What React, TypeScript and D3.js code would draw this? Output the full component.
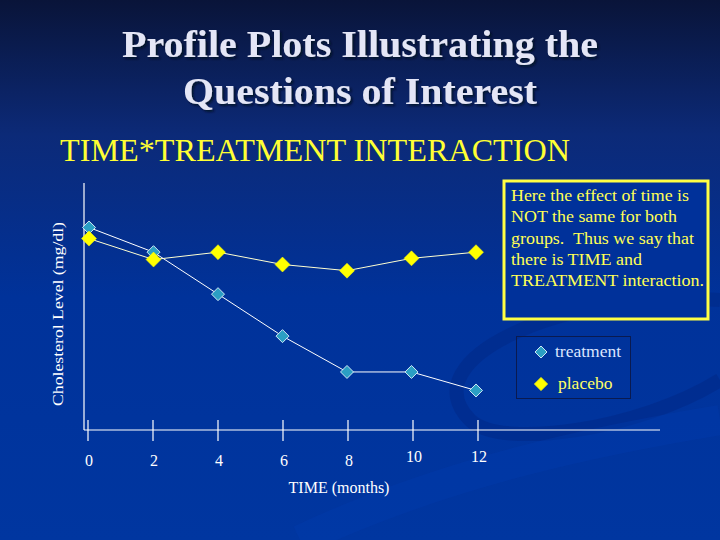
import { useEffect, useRef } from "react";
import * as d3 from "d3";

const months = [0, 2, 4, 6, 8, 10, 12];
const tickLabels = ["0", "2", "4", "6", "8", "10", "12"];
const treatment = [82, 72, 55, 38, 23.5, 23.5, 16];
const placebo = [77.5, 69, 72, 67, 64.5, 69.5, 72];
const noteLines = [
  "Here the effect of time is",
  "NOT the same for both",
  "groups.  Thus we say that",
  "there is TIME and",
  "TREATMENT interaction.",
];
const legendItems = [
  { name: "treatment", fill: "#2b9fc4", stroke: "#cfe8f4", text: "#dbe6ff" },
  { name: "placebo", fill: "#ffff00", stroke: "#ffff00", text: "#ffff66" },
];

const W = 720;
const H = 540;
const SERIF = "'Liberation Serif', 'DejaVu Serif', serif";

export default function App() {
  const svgRef = useRef<SVGSVGElement>(null);

  useEffect(() => {
    if (!svgRef.current) return;
    const root = d3.select(svgRef.current);
    root.selectAll("*").remove();

    // background
    const defs = root.append("defs");
    const grad = defs.append("linearGradient")
      .attr("id", "bg").attr("x1", 0).attr("y1", 0).attr("x2", 0).attr("y2", 1);
    grad.append("stop").attr("offset", "0%").attr("stop-color", "#091439");
    grad.append("stop").attr("offset", "25%").attr("stop-color", "#0c2a78");
    grad.append("stop").attr("offset", "55%").attr("stop-color", "#00329a");
    grad.append("stop").attr("offset", "100%").attr("stop-color", "#0036a0");
    const shadow = defs.append("filter").attr("id", "sh");
    shadow.append("feDropShadow").attr("dx", 2).attr("dy", 2).attr("stdDeviation", 1)
      .attr("flood-color", "#000820").attr("flood-opacity", 0.8);

    root.append("rect").attr("width", W).attr("height", H).attr("fill", "url(#bg)");

    // faint swoosh
    root.append("path")
      .attr("d", "M 720 300 C 560 290, 410 360, 470 420 C 500 450, 640 430, 720 380")
      .attr("fill", "none").attr("stroke", "#002a88").attr("stroke-width", 14).attr("opacity", 0.6);
    root.append("path")
      .attr("d", "M 300 540 C 450 470, 600 440, 720 420")
      .attr("fill", "none").attr("stroke", "#003cb0").attr("stroke-width", 30).attr("opacity", 0.35);

    // titles
    const title = root.append("g").attr("filter", "url(#sh)")
      .attr("font-family", SERIF).attr("font-weight", "bold").attr("font-size", 38)
      .attr("fill", "#e4e6f6").attr("text-anchor", "middle");
    title.append("text").attr("x", 360).attr("y", 57)
      .attr("textLength", 476).attr("lengthAdjust", "spacingAndGlyphs")
      .text("Profile Plots Illustrating the");
    title.append("text").attr("x", 360).attr("y", 104)
      .attr("textLength", 354).attr("lengthAdjust", "spacingAndGlyphs")
      .text("Questions of Interest");

    root.append("text").attr("x", 60).attr("y", 161)
      .attr("font-family", SERIF).attr("font-size", 32).attr("fill", "#ffff33")
      .attr("textLength", 510).attr("lengthAdjust", "spacingAndGlyphs")
      .text("TIME*TREATMENT INTERACTION");

    // scales
    const x = d3.scaleLinear().domain([0, 12]).range([89, 476]);
    const y = d3.scaleLinear().domain([0, 100]).range([430, 183]);

    // axes
    root.append("line").attr("x1", 84).attr("x2", 84).attr("y1", y(100)).attr("y2", 430)
      .attr("stroke", "#ffffff").attr("stroke-width", 1.2);
    root.append("line").attr("x1", 84).attr("x2", 660).attr("y1", 430).attr("y2", 430)
      .attr("stroke", "#ffffff").attr("stroke-width", 1.2);

    const tickX = d3.scaleLinear().domain([0, 12]).range([88, 478]);
    const ticks = root.append("g");
    months.forEach((m, i) => {
      ticks.append("line").attr("x1", tickX(m)).attr("x2", tickX(m))
        .attr("y1", 420).attr("y2", 441).attr("stroke", "#ffffff").attr("stroke-width", 1.2);
      ticks.append("text").attr("x", tickX(m) + 1).attr("y", i >= 5 ? 462 : 466)
        .attr("text-anchor", "middle").attr("font-family", SERIF).attr("font-size", 16)
        .attr("fill", "#ffffff").text(tickLabels[i]);
    });

    root.append("text").attr("x", 339).attr("y", 493).attr("text-anchor", "middle")
      .attr("font-family", SERIF).attr("font-size", 16).attr("fill", "#ffffff")
      .text("TIME (months)");

    root.append("text").attr("transform", "translate(63,314) rotate(-90)")
      .attr("text-anchor", "middle").attr("font-family", SERIF).attr("font-size", 15.5)
      .attr("fill", "#ffffff").attr("textLength", 184).attr("lengthAdjust", "spacingAndGlyphs")
      .text("Cholesterol Level (mg/dl)");

    // lines
    const line = d3.line<number>().x((_, i) => x(months[i])).y((d) => y(d));
    root.append("path").attr("d", line(treatment)).attr("fill", "none")
      .attr("stroke", "#ffffff").attr("stroke-width", 1);
    root.append("path").attr("d", line(placebo)).attr("fill", "none")
      .attr("stroke", "#ffffd0").attr("stroke-width", 1);

    const diamond = (s: number) => `M 0 ${-s} L ${s} 0 L 0 ${s} L ${-s} 0 Z`;

    root.append("g").selectAll("path").data(treatment).enter().append("path")
      .attr("d", diamond(6.5))
      .attr("transform", (d, i) => `translate(${x(months[i])},${y(d)})`)
      .attr("fill", legendItems[0].fill).attr("stroke", legendItems[0].stroke).attr("stroke-width", 1);
    root.append("g").selectAll("path").data(placebo).enter().append("path")
      .attr("d", diamond(7.5))
      .attr("transform", (d, i) => `translate(${x(months[i])},${y(d)})`)
      .attr("fill", legendItems[1].fill).attr("stroke", legendItems[1].stroke).attr("stroke-width", 0.5);

    // annotation
    root.append("rect").attr("x", 504).attr("y", 181).attr("width", 204).attr("height", 138)
      .attr("fill", "#00319a").attr("stroke", "#ffff44").attr("stroke-width", 3);
    const note = root.append("g").attr("font-family", SERIF).attr("font-size", 17.5)
      .attr("fill", "#ffff55");
    const noteWidths = [178, 166, 183, 131, 193];
    noteLines.forEach((t, i) => {
      note.append("text").attr("x", 511).attr("y", 201 + i * 21.3).text(t)
        .attr("textLength", noteWidths[i]).attr("lengthAdjust", "spacingAndGlyphs")
        .style("white-space", "pre");
    });

    // legend
    root.append("rect").attr("x", 516.5).attr("y", 336.5).attr("width", 114).attr("height", 62)
      .attr("fill", "none").attr("stroke", "#0a1a50").attr("stroke-width", 1);
    legendItems.forEach((it, i) => {
      const cy = 352 + i * 32;
      root.append("path").attr("d", diamond(i === 0 ? 6 : 6.5))
        .attr("transform", `translate(${541},${cy})`)
        .attr("fill", it.fill).attr("stroke", it.stroke).attr("stroke-width", 1);
      root.append("text").attr("x", i === 0 ? 555 : 558).attr("y", cy + 5)
        .attr("font-family", SERIF).attr("font-size", 17.5).attr("fill", it.text).text(it.name);
    });
  }, []);

  return (
    <svg
      ref={svgRef}
      width={W}
      height={H}
      style={{ position: "fixed", left: 0, top: 0, display: "block" }}
    />
  );
}
